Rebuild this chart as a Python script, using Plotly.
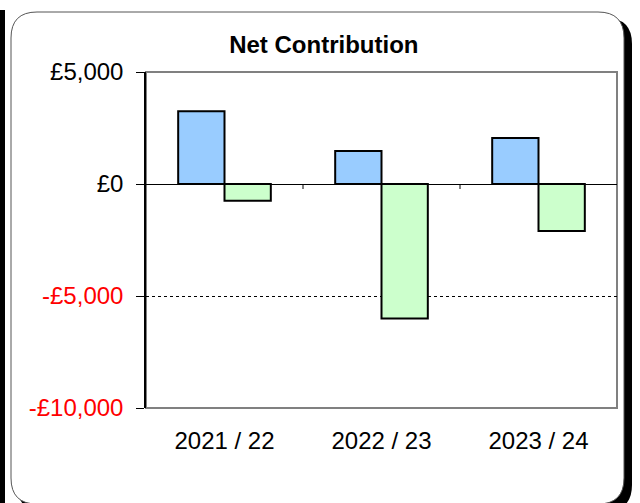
import plotly.graph_objs as go

# data
years = ["2021 / 22", "2022 / 23", "2023 / 24"]
series_a = [3250, 1470, 2050]
series_b = [-750, -6000, -2100]
y_ticks = [5000, 0, -5000, -10000]
y_tick_labels = ["£5,000", "£0", "-£5,000", "-£10,000"]

W, H = 640, 503
L, R, T, B = 146, 617, 72, 408
FONT = "Liberation Sans, Arial, sans-serif"


def px(x):
    return (x - L) / (R - L)


def py(y):
    return (B - y) / (B - T)


def rounded_rect(x0, y0, x1, y1, r):
    # pixel coords -> path in paper coords
    p = [
        f"M {px(x0 + r)} {py(y0)}",
        f"L {px(x1 - r)} {py(y0)}",
        f"Q {px(x1)} {py(y0)} {px(x1)} {py(y0 + r)}",
        f"L {px(x1)} {py(y1 - r)}",
        f"Q {px(x1)} {py(y1)} {px(x1 - r)} {py(y1)}",
        f"L {px(x0 + r)} {py(y1)}",
        f"Q {px(x0)} {py(y1)} {px(x0)} {py(y1 - r)}",
        f"L {px(x0)} {py(y0 + r)}",
        f"Q {px(x0)} {py(y0)} {px(x0 + r)} {py(y0)}",
        "Z",
    ]
    return " ".join(p)


fig = go.Figure()

fig.add_trace(go.Bar(
    x=years,
    y=series_a,
    marker=dict(color="#99CCFF", line=dict(color="black", width=2)),
))
fig.add_trace(go.Bar(
    x=years,
    y=series_b,
    marker=dict(color="#CCFFCC", line=dict(color="black", width=2)),
))

tick_text = [
    t if v >= 0 else f"<span style='color:red'>{t}</span>"
    for v, t in zip(y_ticks, y_tick_labels)
]

shapes = [
    # strip on the far left
    dict(type="rect", xref="paper", yref="paper",
         x0=px(0), x1=px(5), y0=py(10), y1=py(H + 5),
         fillcolor="black", line=dict(width=0), layer="below"),
    # shadow
    dict(type="path", xref="paper", yref="paper",
         path=rounded_rect(17, 18, 632, 511, 26),
         fillcolor="black", line=dict(width=0), layer="below"),
    # card
    dict(type="path", xref="paper", yref="paper",
         path=rounded_rect(11, 12, 624, 504, 26),
         fillcolor="white", line=dict(color="#555555", width=1), layer="below"),
    # plot frame
    dict(type="rect", xref="paper", yref="paper", x0=0, x1=1, y0=0, y1=1,
         line=dict(color="#808080", width=2), layer="below"),
]

# small category separator ticks on the zero line
tick_len = 5 * (max(y_ticks) - min(y_ticks)) / (B - T)
for i in range(len(years) - 1):
    shapes.append(dict(type="line", xref="x", yref="y",
                       x0=i + 0.5, x1=i + 0.5, y0=0, y1=-tick_len,
                       line=dict(color="black", width=1)))

fig.update_layout(
    width=W,
    height=H,
    margin=dict(l=L, r=W - R, t=T, b=H - B, pad=0),
    paper_bgcolor="white",
    plot_bgcolor="rgba(0,0,0,0)",
    showlegend=False,
    barmode="group",
    bargap=0.41,
    bargroupgap=0,
    font=dict(family=FONT, size=24, color="black"),
    title=dict(text="<b>Net Contribution</b>", x=0.506, xref="container",
               xanchor="center", y=1 - 45 / H, yref="container", yanchor="middle",
               font=dict(family=FONT, size=24, color="black")),
    shapes=shapes,
)

fig.update_xaxes(
    showgrid=False,
    showline=False,
    ticks="",
    ticklabelstandoff=16,
    tickfont=dict(size=24),
)
fig.update_yaxes(
    range=[min(y_ticks), max(y_ticks)],
    tickvals=y_ticks,
    ticktext=tick_text,
    showgrid=True,
    gridcolor="black",
    gridwidth=1,
    griddash="dot",
    zeroline=True,
    zerolinecolor="black",
    zerolinewidth=1,
    showline=True,
    linecolor="black",
    linewidth=1.5,
    ticks="outside",
    ticklen=8,
    tickcolor="black",
    tickwidth=1,
    ticklabelstandoff=8,
    tickfont=dict(size=24),
)

fig.write_html("out.html", config={"displayModeBar": False},
               post_script="document.body.style.margin='0';")
